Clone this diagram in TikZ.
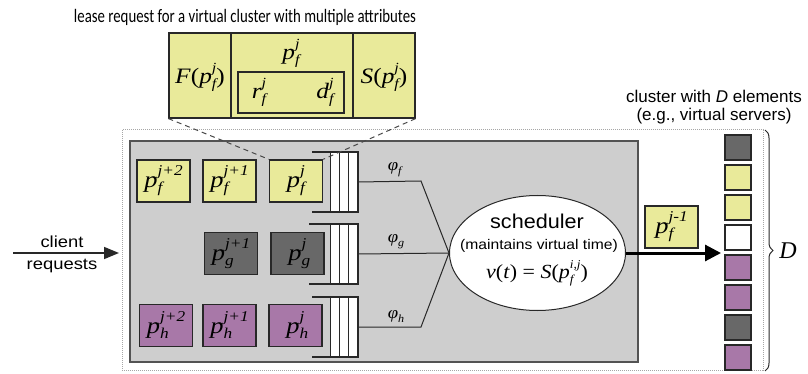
\documentclass[tikz,border=0pt]{standalone}
\usepackage{fontspec}
\setmainfont{Liberation Sans}
\newfontfamily\labelfont{Carlito}
\newfontfamily\tms{Liberation Serif}
\usepackage{graphicx}
\usetikzlibrary{arrows.meta,shapes.geometric,decorations.pathreplacing}

\definecolor{reqyellow}{RGB}{233,234,154}
\definecolor{panelgray}{RGB}{206,206,206}
\definecolor{reqdark}{RGB}{104,104,104}
\definecolor{reqpurple}{RGB}{168,120,168}
\definecolor{edge}{RGB}{40,40,40}

% horizontal stretch and font size helpers
\newcommand\hs[2]{\scalebox{#1}[1]{#2}}
\newcommand\fs[1]{\fontsize{#1}{#1}\selectfont}
% italic symbol with superscript and subscript: base size, script size, symbol, sup, sub
\newcommand\sym[5]{{\tms\itshape\fs{#1}#3\raisebox{-0.22em}{\fs{#2}\rlap{#5}}\raisebox{0.52em}{\fs{#2}#4}}}
\newcommand\preq[2]{\hs{1.15}{\sym{23}{15}{p}{#1}{#2}}}
\newcommand\tok[1]{{\tms\fs{22}#1}}

\tikzset{
  req/.style={draw=edge, line width=1.4pt, minimum width=53pt, minimum height=42pt, inner sep=0pt},
  slot/.style={draw=edge, line width=1.4pt, minimum width=26pt, minimum height=25pt, inner sep=0pt},
  wire/.style={draw=edge, line width=1pt},
  txt/.style={inner sep=0pt, text=black},
}

% queue: name, top y, left x
\newcommand\queue[3]{%
  \fill[white] (330,#2) rectangle (358,#2+60);
  \draw[edge, line width=1.2pt] (#3,#2) -- (358,#2) -- (358,#2+60) -- (#3,#2+60);
  \foreach \qx in {330,339,348} \draw[edge, line width=1pt] (\qx,#2) -- (\qx,#2+60);
  \coordinate (#1) at (358,#2+30);}

\begin{document}
\begin{tikzpicture}[x=1pt, y=-1pt]
\useasboundingbox (0,0) rectangle (808,374);

% top label and lease request record
\node[txt] (leaselabel) at (245,17) {\hs{0.78}{\labelfont\fs{19}lease request for a virtual cluster with multiple attributes}};
\node[req, fill=reqyellow, minimum width=246pt, minimum height=85pt, line width=1.2pt] (lease) at (292,75.5) {};
\draw[edge, line width=1.2pt] (231,33) -- (231,118);
\draw[edge, line width=1.2pt] (353,33) -- (353,118);
\node[draw=edge, line width=1.4pt, minimum width=106pt, minimum height=41pt, inner sep=0pt] (attrs) at (291,92.5) {};
\node[txt] (ptag) at (291,53) {\hs{1.15}{\sym{22}{14}{p}{j}{f}}};
\node[txt] (rtag) at (259,92) {\hs{1.15}{\sym{22}{14}{r}{j}{f}}};
\node[txt] (dtag) at (325,92) {\hs{1.15}{\sym{22}{14}{d}{j}{f}}};
\node[txt] (ftag) at (200,77) {\hs{1.15}{\tok{\textit{F}(}\sym{22}{14}{p}{j}{f}\tok{)}}};
\node[txt] (stag) at (384,77) {\hs{1.15}{\tok{\textit{S}(}\sym{22}{14}{p}{j}{f}\tok{)}}};

% enclosing frame and scheduler panel
\draw[gray!70, line width=1pt, dash pattern=on 1pt off 1pt] (122,130) rectangle (763,370);
\node[draw=edge!80, line width=1.2pt, fill=panelgray, minimum width=508pt, minimum height=221pt, inner sep=0pt] (panel) at (384,251.5) {};

% request queues
\node[req, fill=reqyellow] (f2) at (163.5,181) {\preq{j+2}{f}};
\node[req, fill=reqyellow] (f1) at (229.5,181) {\preq{j+1}{f}};
\node[req, fill=reqyellow] (f0) at (296,181) {\preq{j}{f}};
\node[req, fill=reqdark] (g1) at (231,253.5) {\preq{j+1}{g}};
\node[req, fill=reqdark] (g0) at (297.5,253.5) {\preq{j}{g}};
\node[req, fill=reqpurple] (h2) at (166,325.5) {\preq{j+2}{h}};
\node[req, fill=reqpurple] (h1) at (229.5,325.5) {\preq{j+1}{h}};
\node[req, fill=reqpurple] (h0) at (295.5,325.5) {\preq{j}{h}};

\queue{qf}{152}{312}
\queue{qg}{224}{309}
\queue{qh}{297}{312}

% zoom lines from the head request to its record
\draw[edge!85, line width=1pt, dash pattern=on 5pt off 4pt] (lease.south west) -- (f0.north west);
\draw[edge!85, line width=1pt, dash pattern=on 5pt off 4pt] (lease.south east) -- (f0.north east);

% scheduler
\node[ellipse, draw=edge, line width=1pt, fill=white, minimum width=176pt, minimum height=115pt, inner sep=0pt] (sched) at (537.5,253) {};
\node[txt] (schedname) at (537,221) {\fs{20}\hs{1.08}{scheduler}};
\node[txt] (schednote) at (539,246) {\fs{14}\hs{1.12}{(maintains virtual time)}};
\node[txt] (schedvt) at (537,273) {\hs{1.1}{{\tms\fs{20}\textit{v}(\textit{t}) = \textit{S}(}\sym{20}{12}{p}{i,j}{f}{\tms\fs{20})}}};

\coordinate (bf) at (421,181);
\coordinate (bh) at (421,327);
\draw[wire] (qf) -- (bf) -- (sched.west);
\draw[wire] (qg) -- (sched.west);
\draw[wire] (qh) -- (bh) -- (sched.west);
\node[txt] (wf) at (393,169) {\hs{1.1}{\sym{17}{11}{φ}{}{f}}};
\node[txt] (wg) at (393,241) {\hs{1.1}{\sym{17}{11}{φ}{}{g}}};
\node[txt] (wh) at (393,316) {\hs{1.1}{\sym{17}{11}{φ}{}{h}}};

% incoming client requests
\coordinate (cin) at (13,253);
\coordinate (cend) at (119,253);
\draw[edge, line width=1.6pt, -{Triangle[length=15pt,width=12pt]}] (cin) -- (cend);
\node[txt] (clabel1) at (62,242) {\fs{16}\hs{1.15}{client}};
\node[txt] (clabel2) at (62,266) {\fs{16}\hs{1.15}{requests}};

% dispatched request
\coordinate (intake) at (721,253);
\draw[black, line width=3pt, -{Triangle[length=16pt,width=16pt]}] (sched.east) -- (intake);
\node[req, fill=reqyellow] (out) at (671.5,227) {\preq{j-1}{f}};

% cluster elements
\node[slot, fill=reqdark]   (s1) at (738,147.5) {};
\node[slot, fill=reqyellow] (s2) at (738,177.5) {};
\node[slot, fill=reqyellow] (s3) at (738,207.5) {};
\node[slot, fill=white]     (s4) at (738,237.5) {};
\node[slot, fill=reqpurple] (s5) at (738,267.5) {};
\node[slot, fill=reqpurple] (s6) at (738,297.5) {};
\node[slot, fill=reqdark]   (s7) at (738,327.5) {};
\node[slot, fill=reqpurple] (s8) at (738,357.5) {};

\node[txt] (clus1) at (714,96) {\fs{17}cluster with \textit{D} elements};
\node[txt] (clus2) at (714,116) {\fs{17}(e.g., virtual servers)};
\draw[edge, line width=1pt, decorate, decoration={brace, amplitude=8pt}] (765,130) -- (765,371);
\node[txt] (dlabel) at (788,251) {\tms\itshape\fs{24}D};
\end{tikzpicture}
\end{document}
